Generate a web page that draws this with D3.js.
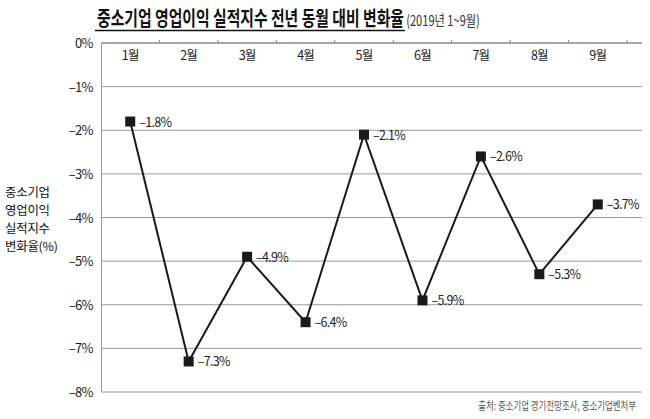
<!DOCTYPE html>
<html><head><meta charset="utf-8">
<script src="https://cdn.jsdelivr.net/npm/d3@7/dist/d3.min.js"></script>
<style>
body{margin:0;background:#fff;}
svg{display:block;font-family:"Noto Sans CJK KR","Noto Sans",sans-serif;}
</style></head>
<body>
<svg id="c" width="650" height="419"></svg>
<script>
const months = ["1월","2월","3월","4월","5월","6월","7월","8월","9월"];
const values = [-1.8,-7.3,-4.9,-6.4,-2.1,-5.9,-2.6,-5.3,-3.7];
const yTicks = [0,-1,-2,-3,-4,-5,-6,-7,-8];
const title = "중소기업 영업이익 실적지수 전년 동월 대비 변화율";
const subtitle = "(2019년 1~9월)";
const yTitle = ["중소기업","영업이익","실적지수","변화율(%)"];
const source = "출처: 중소기업 경기전망조사, 중소기업벤처부";

const svg = d3.select("#c");
const x = d3.scaleBand().domain(months).range([101,627]);
const y = d3.scaleLinear().domain([0,-8]).range([43,392]);
const fmt = v => (v<0?"–":"") + Math.abs(v) + "%";

// gridlines
svg.append("g").selectAll("line").data(yTicks.filter(d=>d!==0)).join("line")
  .attr("x1",101).attr("x2",642).attr("y1",d=>y(d)).attr("y2",d=>y(d))
  .attr("stroke","#9a9a9a").attr("stroke-width",1);

// left axis line
svg.append("line").attr("x1",101.5).attr("x2",101.5).attr("y1",y(0)).attr("y2",y(-8))
  .attr("stroke","#9a9a9a").attr("stroke-width",1);

// top axis
svg.append("line").attr("x1",101).attr("x2",642).attr("y1",y(0)).attr("y2",y(0))
  .attr("stroke","#8a8a8a").attr("stroke-width",1.5);
const bounds = months.map(m=>x(m)).concat([x.range()[1]]);
svg.append("g").selectAll("line").data(bounds.slice(1)).join("line")
  .attr("x1",d=>d).attr("x2",d=>d).attr("y1",y(0)-3).attr("y2",y(0))
  .attr("stroke","#8a8a8a").attr("stroke-width",1);

// month labels
svg.append("g").selectAll("text").data(months).join("text")
  .attr("x",d=>x(d)+x.bandwidth()/2).attr("y",y(0)+17)
  .attr("text-anchor","middle").attr("font-size",12.5).attr("fill","#222")
  .attr("letter-spacing",-0.8).text(d=>d);

// y tick labels
svg.append("g").selectAll("text").data(yTicks).join("text")
  .attr("x",93).attr("y",d=>y(d)+5).attr("text-anchor","end")
  .attr("font-size",13).attr("fill","#222").attr("letter-spacing",-0.6).text(d=>fmt(d));

// line
const cx = d=>x(d)+x.bandwidth()/2;
svg.append("path").datum(values.map((v,i)=>[cx(months[i]),y(v)]))
  .attr("d",d3.line()).attr("fill","none").attr("stroke","#1a1a1a").attr("stroke-width",2);

// markers
svg.append("g").selectAll("rect").data(values).join("rect")
  .attr("x",(d,i)=>cx(months[i])-5).attr("y",d=>y(d)-5)
  .attr("width",10).attr("height",10).attr("fill","#1a1a1a");

// value labels
svg.append("g").selectAll("text").data(values).join("text")
  .attr("x",(d,i)=>cx(months[i])+9).attr("y",d=>y(d)+5)
  .attr("font-size",12.5).attr("fill","#222").attr("letter-spacing",-0.7).text(d=>fmt(d));

// title: one text, condensed by horizontal scale
const tg = svg.append("g");
const t = tg.append("text").attr("x",0).attr("y",0).attr("fill","#111");
const t1 = t.append("tspan").attr("font-size",20).attr("font-weight","bold").text(title);
t.append("tspan").attr("font-size",15).attr("fill","#333").attr("dx",3).text(subtitle);
const len1 = t1.node().getComputedTextLength();
const sx = 307/len1;
tg.attr("transform",`translate(97,26) scale(${sx},1)`);
svg.append("line").attr("x1",95).attr("x2",405).attr("y1",30.5).attr("y2",30.5)
  .attr("stroke","#111").attr("stroke-width",1.5);

// y title
svg.append("g").selectAll("text").data(yTitle).join("text")
  .attr("x",5).attr("y",(d,i)=>197+i*18).attr("font-size",12.4).attr("fill","#111")
  .attr("letter-spacing",-0.2).text(d=>d);

// source
const sg = svg.append("g");
const st = sg.append("text").attr("x",0).attr("y",0).attr("text-anchor","end")
  .attr("font-size",11).attr("fill","#555").text(source);
const sLen = st.node().getComputedTextLength();
sg.attr("transform",`translate(636,410) scale(${158/sLen},1)`);
</script>
</body></html>
